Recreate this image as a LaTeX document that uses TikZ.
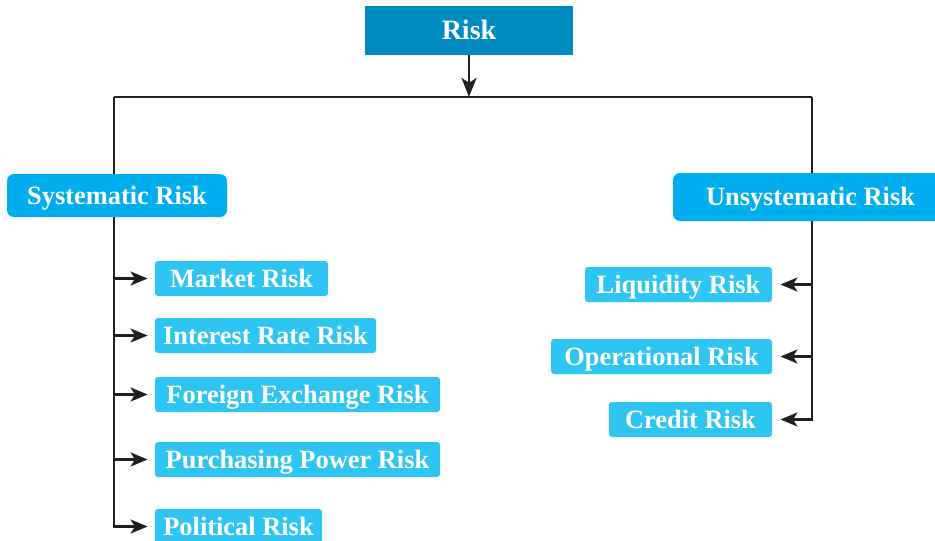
\documentclass[tikz,border=0pt]{standalone}
\usepackage{fontspec}
\setmainfont{Liberation Serif}
\usetikzlibrary{arrows.meta,backgrounds}
\definecolor{topblue}{HTML}{008CC1}
\definecolor{midblue}{HTML}{00AEEF}
\definecolor{leafblue}{HTML}{2EC5F3}
\definecolor{linecol}{HTML}{231F20}
\begin{document}
\begin{tikzpicture}[x=0.5pt,y=-0.5pt,
  box/.style={inner sep=0pt, text=white, text height=8.8pt, text depth=0pt,
    font=\fontsize{13.2}{15}\selectfont\bfseries},
  leaf/.style={box, fill=leafblue, rounded corners=1.5pt, minimum height=17.5pt},
  mid/.style={box, fill=midblue, rounded corners=3.5pt},
  conn/.style={draw=linecol, line width=1.3pt},
  arr/.style={conn, -{Stealth[length=8.5pt,width=7pt,inset=2.2pt]}},
  bigarr/.style={conn, -{Stealth[length=9.5pt,width=7.5pt,inset=2.4pt]}}
]
\clip (0,0) rectangle (935,540);

\node[box, fill=topblue, minimum width=104pt, minimum height=24.5pt, text height=9.4pt,
  font=\fontsize{14}{16}\selectfont\bfseries] (risk) at (469,30.5) {Risk};

\node[mid, minimum width=110pt, minimum height=21.5pt] (sys) at (117,195.5) {Systematic Risk};
\node[mid, minimum width=137.5pt, minimum height=24pt] (unsys) at (810.5,197) {Unsystematic Risk};

\node[leaf, minimum width=86.5pt] (mkt) at (241.5,278.5) {Market Risk};
\node[leaf, minimum width=110.5pt] (int) at (265.5,335.5) {Interest Rate Risk};
\node[leaf, minimum width=142.5pt] (fx) at (297.5,394.5) {Foreign Exchange Risk};
\node[leaf, minimum width=142.5pt] (pp) at (297.5,459.5) {Purchasing Power Risk};
\node[leaf, minimum width=83.5pt] (pol) at (238.5,526.5) {Political Risk};

\node[leaf, minimum width=93.5pt] (liq) at (678.5,284.5) {Liquidity Risk};
\node[leaf, minimum width=110.5pt] (ops) at (661.5,356.5) {Operational Risk};
\node[leaf, minimum width=81.5pt] (cred) at (690.5,419.5) {Credit Risk};

\coordinate (J) at (469,97);
\coordinate (L) at (114,97);
\coordinate (R) at (812,97);

\begin{scope}[on background layer]
\draw[conn] (L) -- (R);
\draw[bigarr] (risk.south) -- (J);
\draw[arr] (L) -- (L |- pol.west) -- ([xshift=-3.5pt]pol.west);
\draw[arr] (L |- mkt.west) -- ([xshift=-3.5pt]mkt.west);
\draw[arr] (L |- int.west) -- ([xshift=-3.5pt]int.west);
\draw[arr] (L |- fx.west) -- ([xshift=-3.5pt]fx.west);
\draw[arr] (L |- pp.west) -- ([xshift=-3.5pt]pp.west);
\draw[arr] (R) -- (R |- cred.east) -- ([xshift=4pt]cred.east);
\draw[arr] (R |- liq.east) -- ([xshift=4pt]liq.east);
\draw[arr] (R |- ops.east) -- ([xshift=4pt]ops.east);
\end{scope}
\end{tikzpicture}
\end{document}
